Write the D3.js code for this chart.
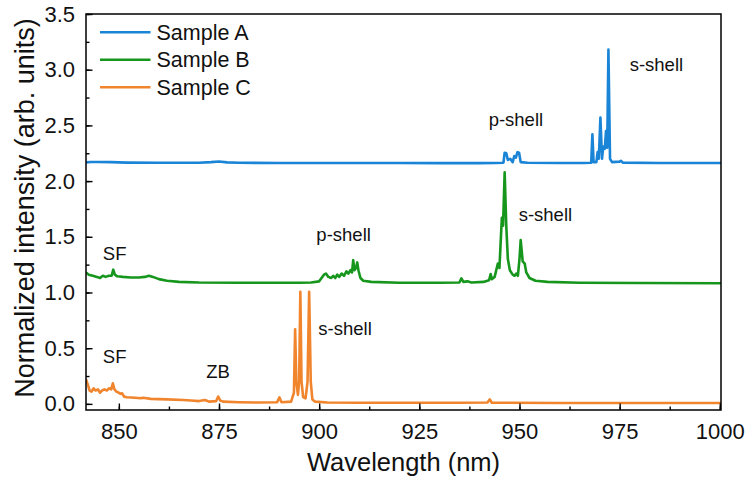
<!DOCTYPE html>
<html><head><meta charset="utf-8">
<script src="https://cdn.jsdelivr.net/npm/d3@7"></script>
<style>body{margin:0;background:#fff} text{font-family:"Liberation Sans",Arial,sans-serif;fill:#111}</style>
</head><body><svg id="c" width="750" height="482"></svg>
<script>
const seriesNames = ["Sample A","Sample B","Sample C"];
const seriesColors = ["#1a84d6","#16961c","#f0852d"];
const xTickValues = [850,875,900,925,950,975,1000];
const yTickValues = [0.0,0.5,1.0,1.5,2.0,2.5,3.0,3.5];

// Sample A: [wavelength nm, normalized intensity]
const sampleA = [
 [841.8,2.168],[843,2.172],[845,2.171],[848,2.17],[852,2.166],[860,2.164],[870,2.165],[873,2.17],[875,2.176],[877,2.168],
 [880,2.164],[890,2.163],[900,2.162],[910,2.162],[920,2.162],[930,2.161],[940,2.161],[944,2.162],[946.0,2.165],[946.3,2.255],
 [946.7,2.25],[947.1,2.19],[947.7,2.2],[948.3,2.17],[948.7,2.225],[949.1,2.21],[949.5,2.26],[949.9,2.255],[950.3,2.17],[952,2.165],
 [960,2.162],[966,2.163],[967.9,2.165],[968.2,2.42],[968.5,2.17],[969.2,2.17],[969.5,2.26],[969.8,2.2],[970.2,2.57],[970.6,2.2],
 [970.9,2.31],[971.3,2.29],[971.6,2.45],[971.9,2.3],[972.2,3.18],[972.6,2.2],[973.1,2.17],[975,2.175],[975.3,2.182],[975.8,2.166],
 [985,2.162],[1000.3,2.162]
];
const sampleB = [
 [841.8,1.18],[842.5,1.16],[843.5,1.15],[844.5,1.14],[845.3,1.13],[846,1.15],[846.7,1.14],[847.5,1.15],[848.2,1.15],[848.6,1.205],
 [849.0,1.16],[849.6,1.145],[851,1.14],[853,1.135],[855,1.135],[856.5,1.14],[857.5,1.15],[858.5,1.14],[860,1.12],[862,1.105],
 [865,1.095],[870,1.09],[880,1.088],[890,1.087],[895,1.087],[898,1.09],[900,1.1],[901.2,1.16],[901.7,1.17],[902.3,1.14],
 [903,1.13],[903.5,1.15],[904,1.13],[904.5,1.16],[905,1.14],[905.6,1.17],[906.2,1.15],[906.8,1.19],[907.3,1.17],[907.8,1.2],
 [908.2,1.18],[908.5,1.29],[908.8,1.2],[909.2,1.22],[909.5,1.27],[909.8,1.2],[910.3,1.13],[911,1.105],[913,1.095],[920,1.088],
 [930,1.087],[935,1.09],[935.5,1.127],[936,1.095],[937,1.1],[938,1.09],[941,1.095],[942.4,1.11],[942.8,1.166],[943.1,1.12],
 [943.8,1.14],[944.6,1.26],[945.0,1.22],[945.3,1.45],[945.6,1.67],[945.9,1.6],[946.3,2.079],[946.7,1.6],[947.1,1.3],[947.6,1.2],
 [948.3,1.16],[948.8,1.15],[949.2,1.17],[949.6,1.15],[950.0,1.3],[950.3,1.47],[950.8,1.28],[951.3,1.26],[951.7,1.18],[952.5,1.13],
 [954,1.105],[957,1.095],[965,1.088],[980,1.085],[1000.3,1.083]
];
const sampleC = [
 [841.8,0.22],[842.2,0.18],[842.7,0.12],[843.2,0.11],[843.7,0.14],[844.2,0.12],[844.8,0.13],[845.3,0.1],[845.8,0.12],[846.4,0.13],
 [847,0.12],[847.6,0.14],[848.1,0.13],[848.5,0.185],[848.9,0.13],[849.4,0.11],[850.0,0.1],[850.4,0.09],[850.8,0.095],[851.3,0.065],
 [852,0.06],[854,0.055],[855.5,0.05],[856,0.055],[858,0.045],[862,0.04],[866,0.035],[868,0.03],[870,0.025],[871.5,0.035],
 [872.5,0.02],[874.3,0.025],[874.8,0.066],[875.3,0.03],[876,0.02],[880,0.015],[885,0.012],[889.5,0.015],[890.1,0.058],[890.6,0.015],
 [893,0.02],[893.7,0.1],[894.0,0.67],[894.3,0.2],[894.7,0.08],[895.0,0.2],[895.3,1.007],[895.6,0.2],[896.0,0.06],[896.6,0.05],
 [897.1,0.2],[897.5,1.007],[897.9,0.2],[898.3,0.04],[899,0.02],[902,0.012],[910,0.01],[920,0.01],[935,0.01],[942,0.012],
 [942.6,0.04],[943.1,0.01],[960,0.008],[1000.3,0.008]
];
const annotations = [
 {text:"s-shell", x:977.5, y:2.99},
 {text:"p-shell", x:942.3, y:2.495},
 {text:"SF", x:846, y:1.29},
 {text:"p-shell", x:899.3, y:1.465},
 {text:"s-shell", x:949.8, y:1.645},
 {text:"SF", x:846, y:0.367},
 {text:"ZB", x:871.8, y:0.232},
 {text:"s-shell", x:899.8, y:0.618}
];

const svg = d3.select("#c");
const L=86, R=721, T=14, B=410;
const x = d3.scaleLinear().domain([841.8,1000.3]).range([L,R]);
const y = d3.scaleLinear().domain([-0.055,3.5]).range([B,T]);

const line = d3.line().x(d=>x(d[0])).y(d=>y(d[1]));
svg.append("clipPath").attr("id","pc").append("rect").attr("x",L).attr("y",T).attr("width",R-L).attr("height",B-T);
const plot = svg.append("g").attr("clip-path","url(#pc)");
[sampleC,sampleB,sampleA].forEach((s,i)=>{
  plot.append("path").datum(s).attr("d",line).attr("fill","none")
   .attr("stroke",seriesColors[2-i]).attr("stroke-width",2.6).attr("stroke-linejoin","round");
});

const xMinor = d3.range(850,1001,12.5);
const yMinor = d3.range(0,3.51,0.25);
const gx = svg.append("g").attr("transform",`translate(0,${B})`);
gx.call(d3.axisBottom(x).tickValues(xMinor).tickSize(-3.5).tickFormat(""));
gx.call(g=>g.select(".domain").remove());
const gx2 = svg.append("g").attr("transform",`translate(0,${B})`)
  .call(d3.axisBottom(x).tickValues(xTickValues).tickSize(-6.5).tickPadding(12).tickFormat(d3.format("d")));
gx2.select(".domain").remove();
gx2.selectAll("text").attr("font-size",22).attr("dy","0.71em").attr("y",13.3);
const gy = svg.append("g").attr("transform",`translate(${L},0)`);
gy.call(d3.axisLeft(y).tickValues(yMinor).tickSize(-3.5).tickFormat(""));
gy.call(g=>g.select(".domain").remove());
const gy2 = svg.append("g").attr("transform",`translate(${L},0)`)
  .call(d3.axisLeft(y).tickValues(yTickValues).tickSize(-6.5).tickPadding(11).tickFormat(d3.format(".1f")));
gy2.select(".domain").remove();
gy2.selectAll("text").attr("font-size",22).attr("x",-11);
svg.selectAll(".tick line").attr("stroke","#000").attr("stroke-width",1.4);
svg.selectAll(".tick text").style("fill","#111");

svg.append("rect").attr("x",L).attr("y",T).attr("width",R-L).attr("height",B-T)
  .attr("fill","none").attr("stroke","#000").attr("stroke-width",1.5);

svg.append("text").attr("x",(L+R)/2).attr("y",470.5).attr("text-anchor","middle")
  .attr("font-size",25.5).text("Wavelength (nm)");
svg.append("text").attr("transform",`translate(33.5,${(T+B)/2-4}) rotate(-90)`).attr("text-anchor","middle")
  .attr("font-size",27).text("Normalized intensity (arb. units)");

const lg = svg.append("g");
seriesNames.forEach((n,i)=>{
  const yy = 32.3 + i*27.5;
  lg.append("line").attr("x1",100).attr("x2",150.5).attr("y1",yy).attr("y2",yy)
    .attr("stroke",seriesColors[i]).attr("stroke-width",2.6);
  lg.append("text").attr("x",156.5).attr("y",yy+7.3).attr("font-size",21.5).text(n);
});

svg.append("g").selectAll("text").data(annotations).join("text")
  .attr("x",d=>x(d.x)).attr("y",d=>y(d.y)).attr("font-size",18.5).text(d=>d.text);
</script></body></html>
